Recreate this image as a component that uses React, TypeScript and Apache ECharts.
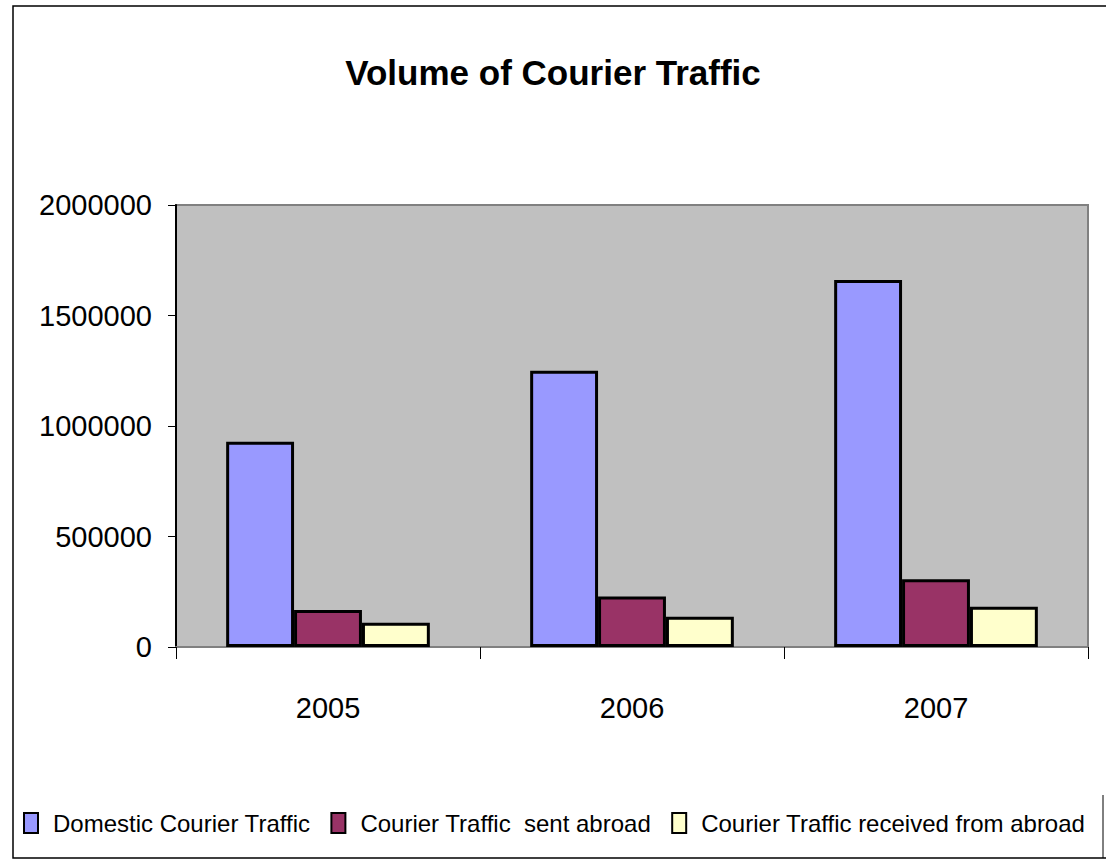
import React, { useEffect, useRef } from "react";
import * as echarts from "echarts";

const years = ["2005", "2006", "2007"];
const domestic = [929000, 1250000, 1661000];
const sentAbroad = [167000, 228000, 306000];
const receivedFromAbroad = [110000, 137000, 182000];
const seriesNames = [
  "Domestic Courier Traffic",
  "Courier Traffic  sent abroad",
  "Courier Traffic received from abroad",
];
const yTicks = [0, 500000, 1000000, 1500000, 2000000];

const FONT = "'Liberation Sans', Arial, sans-serif";

export default function App() {
  const ref = useRef<HTMLDivElement>(null);
  useEffect(() => {
    const chart = echarts.init(ref.current!, null, { renderer: "svg" });
    const barStyle = (color: string) => ({
      color,
      borderColor: "#000000",
      borderWidth: 3,
    });
    chart.setOption({
      animation: false,
      backgroundColor: "#ffffff",
      title: {
        text: "Volume of Courier Traffic",
        left: "center",
        top: 50,
        textStyle: { fontFamily: FONT, fontSize: 35, fontWeight: "bold", color: "#000" },
      },
      grid: {
        left: 176,
        right: 18,
        top: 205,
        bottom: 219,
        show: true,
        backgroundColor: "#C0C0C0",
        borderColor: "#808080",
        borderWidth: 2,
      },
      legend: {
        left: 18,
        right: 0,
        top: 806,
        itemWidth: 14,
        itemHeight: 20,
        itemGap: 20,
        icon: "rect",
        itemStyle: { borderColor: "#000", borderWidth: 2 },
        textStyle: { fontFamily: FONT, fontSize: 24, color: "#000", padding: [0, 0, 0, 10] },
        data: seriesNames,
      },
      xAxis: {
        type: "category",
        data: years,
        axisLine: { lineStyle: { color: "#808080", width: 2 } },
        axisTick: { show: true, length: 12, lineStyle: { color: "#000", width: 1 } },
        axisLabel: { fontFamily: FONT, fontSize: 29, color: "#000", margin: 46 },
        splitLine: { show: false },
      },
      yAxis: {
        type: "value",
        min: yTicks[0],
        max: yTicks[yTicks.length - 1],
        interval: 500000,
        axisLine: { show: true, lineStyle: { color: "#000", width: 2 } },
        axisTick: { show: true, length: 8, lineStyle: { color: "#000", width: 1 } },
        axisLabel: {
          fontFamily: FONT,
          fontSize: 29,
          color: "#000",
          margin: 24,
          formatter: (v: number) => String(v),
        },
        splitLine: { show: false },
      },
      series: [
        {
          name: seriesNames[0],
          type: "bar",
          data: domestic,
          barGap: "0%",
          barCategoryGap: "33%",
          itemStyle: barStyle("#9999FF"),
        },
        {
          name: seriesNames[1],
          type: "bar",
          data: sentAbroad,
          barGap: "0%",
          barCategoryGap: "33%",
          itemStyle: barStyle("#993366"),
        },
        {
          name: seriesNames[2],
          type: "bar",
          data: receivedFromAbroad,
          barGap: "0%",
          barCategoryGap: "33%",
          itemStyle: barStyle("#FFFFCC"),
        },
      ],
      graphic: [
        {
          type: "rect",
          silent: true,
          shape: { x: 13, y: 6, width: 1110, height: 852 },
          style: { fill: "none", stroke: "#000", lineWidth: 1.5 },
        },
        {
          type: "line",
          silent: true,
          shape: { x1: 1103, y1: 795, x2: 1103, y2: 858 },
          style: { stroke: "#000", lineWidth: 1 },
        },
      ],
    });
    return () => chart.dispose();
  }, []);
  return <div ref={ref} style={{ width: 1106, height: 866, position: "absolute", left: 0, top: 0 }} />;
}
